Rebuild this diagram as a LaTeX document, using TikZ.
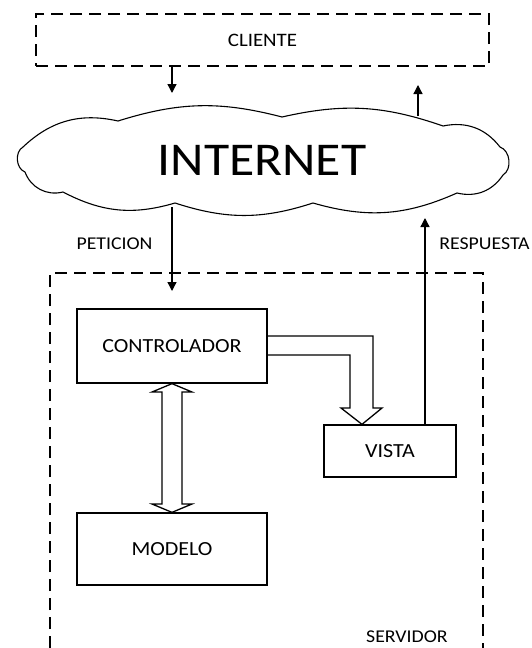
\documentclass[tikz,border=0pt]{standalone}
\usepackage{fontspec}
\setmainfont{Carlito}[FakeStretch=1.1]
\usetikzlibrary{arrows.meta}

\begin{document}
\begin{tikzpicture}[x=1pt,y=-1pt,
    caja/.style={draw,line width=1.3pt,font=\fontsize{20}{24}\selectfont},
    rotulo/.style={font=\fontsize{18}{22}\selectfont},
    punta/.style={-{Triangle[width=9pt,length=9pt]},line width=1.3pt},
    bloque/.style={line width=1.3pt,line join=miter}]
    \useasboundingbox (0,0) rectangle (531,648);
    % cliente e internet
    \node[draw,dash pattern=on 12pt off 7pt,line width=1.3pt,minimum width=453pt,minimum height=52pt,
        font=\fontsize{19}{23}\selectfont](cli) at (262.5,40) {CLIENTE};
    \draw[line width=1.1pt]
        (23,147) to[bend left=28] (118,121)
        to[bend left=16] (282,117)
        to[bend left=16] (443,126)
        to[bend left=32] (500,147)
        to[bend left=65] (503,175)
        to[bend left=35] (457,193)
        to[bend left=20] (313,203)
        to[bend left=18] (175,203)
        to[bend left=22] (63,192)
        to[bend left=42] (25,172)
        to[bend left=65] cycle;
    \node[font=\fontsize{47}{56}\selectfont](net) at (262,160) {INTERNET};
    \coordinate(baja) at (172,93);
    \coordinate(sube) at (418,85);
    \coordinate(subeini) at (418,116);
    \draw[punta] (baja |- cli.south) -- (baja);
    \draw[punta] (subeini) -- (sube);
    % servidor
    \draw[dash pattern=on 12pt off 7pt,line width=1.3pt]
        (50,648) -- (50,273) --
        (483,273) -- (483,648);
    \node[rotulo](serv) at (407,637) {SERVIDOR};
    \node[caja,minimum width=190pt,minimum height=74pt](ctrl) at (172,346) {CONTROLADOR};
    \node[caja,minimum width=132pt,minimum height=52pt](vista) at (390,451) {VISTA};
    \node[caja,minimum width=190pt,minimum height=72pt](mod) at (172,549) {MODELO};
    % peticion y respuesta
    \coordinate(pet) at (172,207);
    \coordinate(resp) at (425,218);
    \draw[punta] (pet) -- (172,291);
    \draw[punta] (vista.north -| resp) -- (resp);
    \node[rotulo](lpet) at (114.5,244) {PETICION};
    \node[rotulo](lresp) at (484.5,244) {RESPUESTA};
    % flechas de bloque
    \draw[bloque]
        (ctrl.south) -- (152,392) --
        (162,392) -- (162,504) --
        (152,504) -- (mod.north) --
        (192,504) -- (182,504) --
        (182,392) -- (192,392) -- cycle;
    \draw[bloque]
        (ctrl.east |- 0,336) -- (373,336) --
        (373,408) -- (382,408) --
        (vista.north -| 362,0) -- (341,408) --
        (350,408) -- (350,355) --
        (ctrl.east |- 0,355);
\end{tikzpicture}
\end{document}
